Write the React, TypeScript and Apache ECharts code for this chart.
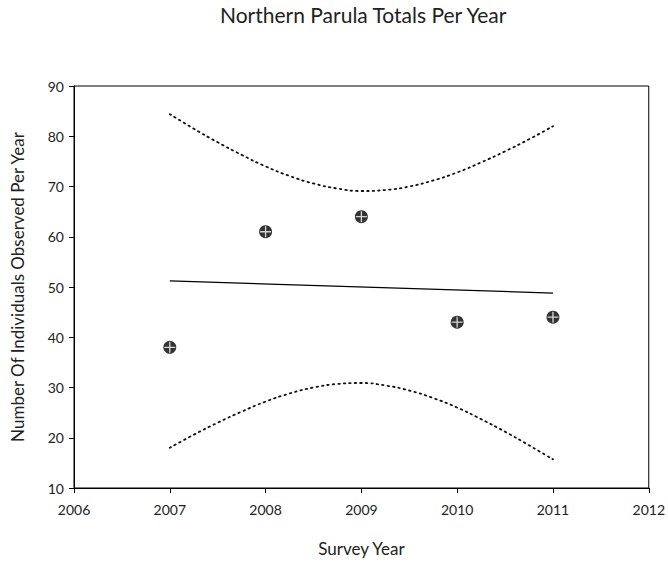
import React, { useEffect, useRef } from "react";
import * as echarts from "echarts";

const years = [2007, 2008, 2009, 2010, 2011];
const totals = [38, 61, 64, 43, 44];

const trendX = [2007, 2011];
const trendY = [51.2, 48.8];

const bandX = [2007, 2007.25, 2007.5, 2007.75, 2008, 2008.25, 2008.5, 2008.75, 2009, 2009.25, 2009.5, 2009.75, 2010, 2010.25, 2010.5, 2010.75, 2011];
const upperBand = [84.4, 81.5, 78.8, 76.3, 74.0, 72.1, 70.6, 69.6, 69.1, 69.3, 70.0, 71.2, 72.8, 74.8, 77.0, 79.4, 82.0];
const lowerBand = [18.0, 20.6, 23.0, 25.2, 27.2, 28.8, 30.0, 30.7, 30.9, 30.4, 29.4, 27.9, 26.0, 23.7, 21.2, 18.5, 15.7];

const yTicks = { min: 10, max: 90, interval: 10 };
const xTicks = { min: 2006, max: 2012, interval: 1 };

const FONT = "Lato, 'Open Sans', sans-serif";

export default function App() {
  const ref = useRef<HTMLDivElement>(null);
  useEffect(() => {
    if (!ref.current) return;
    const chart = echarts.init(ref.current, undefined, { renderer: "svg" });
    const pair = (xs: number[], ys: number[]) => xs.map((x, i) => [x, ys[i]]);
    const dotted = { color: "#111", width: 1.8, type: [1.5, 4] as number[], cap: "round" as const };
    chart.setOption({
      animation: false,
      backgroundColor: "#fff",
      textStyle: { fontFamily: FONT },
      title: {
        text: "Northern Parula Totals Per Year",
        left: 215,
        top: 4,
        padding: [0, 5],
        textStyle: { fontFamily: FONT, fontSize: 21, fontWeight: "normal", color: "#222" },
      },
      grid: {
        left: 74,
        right: 19,
        top: 86,
        bottom: 73,
        show: true,
        borderColor: "#000",
        borderWidth: 1,
        containLabel: false,
      },
      xAxis: {
        type: "value",
        min: xTicks.min,
        max: xTicks.max,
        interval: xTicks.interval,
        name: "Survey Year",
        nameLocation: "middle",
        nameGap: 52,
        nameTextStyle: { fontFamily: FONT, fontSize: 17, color: "#222" },
        axisLine: { show: true, lineStyle: { color: "#000", width: 1 } },
        axisTick: { show: true, inside: false, length: 5, lineStyle: { color: "#000" } },
        axisLabel: { formatter: (v: number) => String(v), fontSize: 14, color: "#222", margin: 14, fontFamily: FONT },
        splitLine: { show: false },
      },
      yAxis: {
        type: "value",
        min: yTicks.min,
        max: yTicks.max,
        interval: yTicks.interval,
        name: "Number Of Individuals Observed Per Year",
        nameLocation: "middle",
        nameGap: 48,
        nameTextStyle: { fontFamily: FONT, fontSize: 17, color: "#222" },
        axisLine: { show: true, lineStyle: { color: "#000", width: 1 } },
        axisTick: { show: true, inside: false, length: 5, lineStyle: { color: "#000" } },
        axisLabel: { fontSize: 14, color: "#222", margin: 10, fontFamily: FONT },
        splitLine: { show: false },
      },
      series: [
        {
          type: "line",
          data: pair(bandX, upperBand),
          smooth: true,
          showSymbol: false,
          lineStyle: dotted,
          silent: true,
        },
        {
          type: "line",
          data: pair(bandX, lowerBand),
          smooth: true,
          showSymbol: false,
          lineStyle: dotted,
          silent: true,
        },
        {
          type: "line",
          data: pair(trendX, trendY),
          showSymbol: false,
          lineStyle: { color: "#000", width: 1.3 },
          silent: true,
        },
        {
          type: "scatter",
          data: pair(years, totals),
          symbol: "circle",
          symbolSize: 13,
          itemStyle: { color: "#000" },
          z: 5,
        },
        {
          type: "scatter",
          data: pair(years, totals),
          symbol: "path://M0,4.4 H10 V5.6 H0 Z M4.4,0 H5.6 V10 H4.4 Z",
          symbolSize: 11,
          itemStyle: { color: "#fff" },
          z: 6,
        },
      ],
    });
    return () => chart.dispose();
  }, []);
  return (
    <div
      ref={ref}
      style={{ position: "fixed", left: 0, top: 0, width: 668, height: 562 }}
    />
  );
}
